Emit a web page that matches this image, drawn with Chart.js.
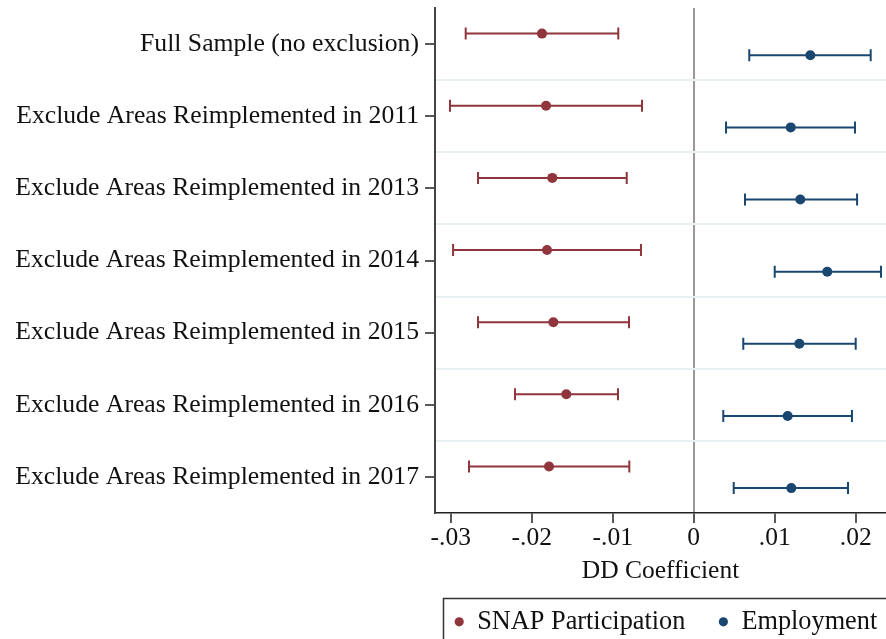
<!DOCTYPE html>
<html>
<head>
<meta charset="utf-8">
<script src="https://cdn.jsdelivr.net/npm/chart.js@4.4.1/dist/chart.umd.min.js"></script>
<style>
  html, body { margin: 0; padding: 0; background: #ffffff; }
  #wrap { width: 886px; height: 639px; position: relative; }
</style>
</head>
<body>
<div id="wrap"><canvas id="c" width="886" height="639"></canvas></div>
<script>
// ---- data ----
const categories = [
  "Full Sample (no exclusion)",
  "Exclude Areas Reimplemented in 2011",
  "Exclude Areas Reimplemented in 2013",
  "Exclude Areas Reimplemented in 2014",
  "Exclude Areas Reimplemented in 2015",
  "Exclude Areas Reimplemented in 2016",
  "Exclude Areas Reimplemented in 2017"
];
const seriesNames = ["SNAP Participation", "Employment"];

const snapCoef = [-0.01873, -0.01823, -0.01746, -0.01811, -0.01733, -0.01573, -0.01786];
const snapLow  = [-0.02815, -0.03009, -0.02663, -0.02971, -0.02663, -0.02206, -0.02774];
const snapHigh = [-0.00931, -0.00638, -0.00827, -0.00651, -0.00799, -0.00935, -0.00795];

const empCoef = [0.01440, 0.01198, 0.01316, 0.01649, 0.01304, 0.01160, 0.01205];
const empLow  = [0.00686, 0.00399, 0.00633, 0.01000, 0.00612, 0.00365, 0.00494];
const empHigh = [0.02185, 0.01991, 0.02017, 0.02312, 0.02000, 0.01954, 0.01905];

const xTickValues = [-0.03, -0.02, -0.01, 0, 0.01, 0.02];
const xTickLabels = ["-.03", "-.02", "-.01", "0", ".01", ".02"];

// ---- styling ----
const SNAP_COLOR = "#90353b";
const EMP_COLOR = "#1a476f";
const FONT = "'Liberation Serif', 'Times New Roman', serif";
const SNAP_SHIFT = -0.145;
const EMP_SHIFT = 0.155;

function buildPoints(coef, lo, hi, shift) {
  return coef.map((v, i) => ({ x: v, y: i + shift, lo: lo[i], hi: hi[i] }));
}

const errorBars = {
  id: "errorBars",
  beforeDatasetsDraw(chart) {
    const { ctx, scales: { x, y } } = chart;
    ctx.save();
    chart.data.datasets.forEach(ds => {
      ctx.strokeStyle = ds.backgroundColor;
      ctx.lineWidth = 2;
      ds.data.forEach(d => {
        const py = y.getPixelForValue(d.y);
        const x1 = x.getPixelForValue(d.lo);
        const x2 = x.getPixelForValue(d.hi);
        ctx.beginPath();
        ctx.moveTo(x1, py); ctx.lineTo(x2, py);
        ctx.moveTo(x1, py - 6); ctx.lineTo(x1, py + 6);
        ctx.moveTo(x2, py - 6); ctx.lineTo(x2, py + 6);
        ctx.stroke();
      });
    });
    ctx.restore();
  }
};

// Stata-style boxed legend below the plot (partly cut off at the canvas edge, as in the reference)
const boxedLegend = {
  id: "boxedLegend",
  afterDraw(chart) {
    const { ctx, chartArea } = chart;
    const xAxis = chart.scales.x;
    ctx.save();
    const boxLeft = chartArea.left + 8.5;
    const boxTop = xAxis.bottom + 0.5;
    ctx.strokeStyle = "#333333";
    ctx.lineWidth = 1.5;
    ctx.strokeRect(boxLeft, boxTop, 1000, 200);
    const cy = boxTop + 23.3;
    ctx.font = "26.3px " + FONT;
    ctx.textBaseline = "middle";
    ctx.textAlign = "left";
    let cx = boxLeft + 15.7;
    chart.data.datasets.forEach(ds => {
      ctx.fillStyle = ds.backgroundColor;
      ctx.beginPath();
      ctx.arc(cx, cy, 4.6, 0, Math.PI * 2);
      ctx.fill();
      ctx.fillStyle = "#111111";
      const tx = cx + 18;
      ctx.fillText(ds.label, tx, cy);
      cx = tx + ctx.measureText(ds.label).width + 38;
    });
    ctx.restore();
  }
};

Chart.defaults.font.family = FONT;
Chart.defaults.color = "#111111";

new Chart(document.getElementById("c"), {
  type: "scatter",
  data: {
    datasets: [
      {
        label: seriesNames[0],
        data: buildPoints(snapCoef, snapLow, snapHigh, SNAP_SHIFT),
        backgroundColor: SNAP_COLOR,
        borderColor: SNAP_COLOR,
        pointRadius: 5,
        pointBorderWidth: 0,
        pointStyle: "circle"
      },
      {
        label: seriesNames[1],
        data: buildPoints(empCoef, empLow, empHigh, EMP_SHIFT),
        backgroundColor: EMP_COLOR,
        borderColor: EMP_COLOR,
        pointRadius: 5,
        pointBorderWidth: 0,
        pointStyle: "circle"
      }
    ]
  },
  options: {
    responsive: false,
    animation: false,
    devicePixelRatio: 1,
    layout: { autoPadding: false, padding: { top: 8, left: 0, right: 0, bottom: 41 } },
    plugins: {
      tooltip: { enabled: false },
      legend: { display: false }
    },
    scales: {
      x: {
        type: "linear",
        min: -0.03194,
        max: 0.02374,
        afterBuildTicks: s => { s.ticks = xTickValues.map(v => ({ value: v })); },
        afterFit: s => { s.height = 85; s.paddingLeft = 0; s.paddingRight = 0; },
        ticks: {
          padding: 0,
          color: "#111111",
          font: { family: FONT, size: 25.5 },
          callback: (v) => {
            const i = xTickValues.findIndex(t => Math.abs(t - v) < 1e-9);
            return i >= 0 ? xTickLabels[i] : "";
          }
        },
        grid: {
          drawOnChartArea: true,
          color: c => (c.tick && Math.abs(c.tick.value) < 1e-9) ? "#9a9a9a" : "rgba(0,0,0,0)",
          lineWidth: 2,
          tickColor: "#222222",
          tickWidth: 1.5,
          tickLength: 10
        },
        border: { display: true, color: "#222222", width: 1.5 },
        title: {
          display: true,
          text: "DD Coefficient",
          color: "#111111",
          font: { family: FONT, size: 25.5 },
          padding: { top: 0, bottom: 11 }
        }
      },
      y: {
        type: "linear",
        min: -0.5,
        max: 6.5,
        reverse: true,
        afterBuildTicks: s => {
          const t = [];
          categories.forEach((_, i) => {
            t.push({ value: i });
            if (i < categories.length - 1) t.push({ value: i + 0.5 });
          });
          s.ticks = t;
        },
        afterFit: s => { s.width = 435; s.paddingTop = 0; s.paddingBottom = 0; },
        ticks: {
          padding: 6,
          autoSkip: false,
          color: "#111111",
          font: { family: FONT, size: 25.7 },
          callback: (v) => Number.isInteger(v) ? categories[v] : ""
        },
        grid: {
          drawOnChartArea: true,
          color: c => (c.tick && !Number.isInteger(c.tick.value)) ? "#e9f0f2" : "rgba(0,0,0,0)",
          lineWidth: 2,
          tickColor: c => (c.tick && Number.isInteger(c.tick.value)) ? "#222222" : "rgba(0,0,0,0)",
          tickWidth: 1.5,
          tickLength: 10
        },
        border: { display: true, color: "#444444", width: 2 }
      }
    }
  },
  plugins: [errorBars, boxedLegend]
});
</script>
</body>
</html>
